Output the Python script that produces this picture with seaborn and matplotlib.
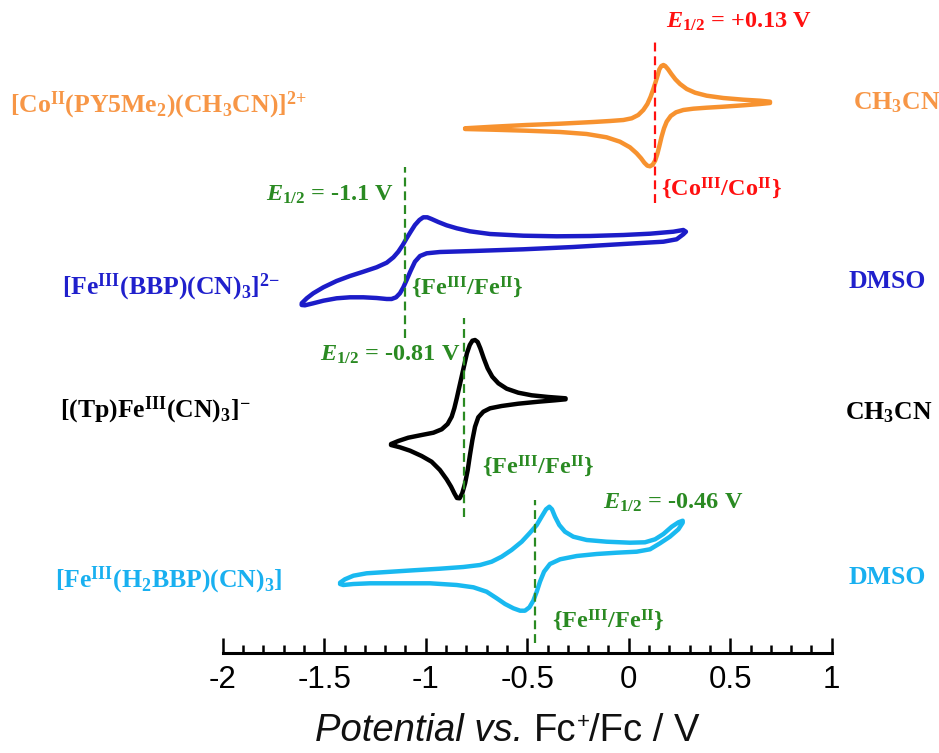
import numpy as np
import pandas as pd
import seaborn as sns
import matplotlib
matplotlib.use("Agg")
import matplotlib.pyplot as plt
from matplotlib.ticker import MultipleLocator, FuncFormatter

# ---- cyclic voltammograms (potential in V vs Fc+/Fc, current in arbitrary units) ----
# each trace: forward sweep (left -> right) followed by the return sweep
co_E = [-0.806, -0.667, -0.503, -0.338, -0.174, -0.092, -0.026, 0.015, 0.047, 0.072, 0.092,
        0.108, 0.121, 0.133, 0.143, 0.151, 0.161, 0.171, 0.180, 0.194, 0.210, 0.230, 0.253,
        0.286, 0.327, 0.384, 0.466, 0.565, 0.647, 0.696,
        0.696, 0.647, 0.565, 0.466, 0.384, 0.318, 0.269, 0.233, 0.207, 0.187, 0.174, 0.162,
        0.151, 0.141, 0.130, 0.118, 0.105, 0.092, 0.077, 0.061, 0.039, 0.006, -0.043, -0.109,
        -0.207, -0.338, -0.503, -0.667, -0.806]
co_I = [0.02, 0.18, 0.35, 0.48, 0.65, 0.75, 0.85, 1.02, 1.35, 1.85, 2.45, 3.18, 3.92, 4.68,
        5.35, 5.92, 6.25, 6.35, 6.25, 5.92, 5.45, 4.92, 4.45, 3.95, 3.58, 3.28, 3.05, 2.88,
        2.78, 2.68,
        2.55, 2.45, 2.32, 2.18, 2.08, 1.98, 1.85, 1.62, 1.25, 0.68, 0.02, -0.82, -1.75, -2.55,
        -3.22, -3.62, -3.78, -3.72, -3.42, -2.98, -2.48, -1.88, -1.32, -0.88, -0.55, -0.35,
        -0.22, -0.12, -0.05]

bbp_E = [-1.611, -1.586, -1.554, -1.504, -1.439, -1.373, -1.307, -1.242, -1.192, -1.159,
         -1.135, -1.113, -1.094, -1.074, -1.053, -1.031, -1.012, -0.992, -0.971, -0.938,
         -0.897, -0.847, -0.782, -0.683, -0.519, -0.355, -0.191, -0.026, 0.105, 0.220, 0.269,
         0.282,
         0.269, 0.236, 0.171, -0.026, -0.273, -0.519, -0.765, -0.930, -0.995, -1.028, -1.053,
         -1.074, -1.094, -1.110, -1.127, -1.146, -1.168, -1.192, -1.242, -1.307, -1.373,
         -1.439, -1.504, -1.554, -1.595, -1.611]
bbp_I = [0.07, 0.57, 1.07, 1.67, 2.3, 2.8, 3.23, 3.67, 4.13, 4.67, 5.23, 5.9, 6.57, 7.23, 7.9,
         8.4, 8.67, 8.67, 8.5, 8.2, 7.87, 7.57, 7.27, 7.0, 6.83, 6.77, 6.8, 6.9, 7.03, 7.23,
         7.4, 7.23,
         6.97, 6.47, 6.23, 6.0, 5.7, 5.47, 5.3, 5.2, 5.07, 4.8, 4.23, 3.33, 2.4, 1.67, 1.07,
         0.67, 0.5, 0.5, 0.6, 0.67, 0.67, 0.57, 0.33, 0.07, -0.13, -0.1]

tp_E = [-1.171, -1.135, -1.086, -1.020, -0.962, -0.921, -0.892, -0.872, -0.859, -0.847,
        -0.836, -0.823, -0.810, -0.797, -0.783, -0.770, -0.757, -0.744, -0.731, -0.714,
        -0.695, -0.672, -0.642, -0.601, -0.544, -0.478, -0.396, -0.311,
        -0.311, -0.363, -0.445, -0.544, -0.626, -0.683, -0.716, -0.741, -0.757, -0.770,
        -0.782, -0.793, -0.806, -0.820, -0.833, -0.846, -0.859, -0.875, -0.897, -0.930,
        -0.971, -1.020, -1.077, -1.127, -1.171]
tp_I = [0.0, 0.3, 0.63, 0.9, 1.13, 1.47, 2.0, 2.73, 3.57, 4.57, 5.57, 6.73, 7.9, 9.07, 9.9,
        10.33, 10.4, 10.2, 9.57, 8.57, 7.57, 6.73, 6.07, 5.53, 5.13, 4.87, 4.7, 4.57,
        4.47, 4.37, 4.23, 4.03, 3.8, 3.57, 3.23, 2.67, 1.73, 0.4, -1.1, -2.6, -3.93, -4.93,
        -5.43, -5.4, -4.93, -4.27, -3.53, -2.6, -1.77, -1.2, -0.67, -0.33, -0.1]

h2_E = [-1.422, -1.398, -1.356, -1.291, -1.192, -1.061, -0.930, -0.815, -0.732, -0.675,
        -0.626, -0.577, -0.527, -0.486, -0.453, -0.429, -0.407, -0.391, -0.378, -0.363,
        -0.342, -0.314, -0.273, -0.207, -0.109, 0.006, 0.080, 0.130, 0.171, 0.212, 0.245,
        0.266,
        0.266, 0.245, 0.203, 0.154, 0.105, 0.039, -0.059, -0.158, -0.256, -0.338, -0.388,
        -0.417, -0.437, -0.453, -0.470, -0.489, -0.511, -0.535, -0.568, -0.609, -0.650,
        -0.700, -0.765, -0.847, -0.979, -1.143, -1.274, -1.356, -1.406, -1.422]
h2_I = [0.03, 0.37, 0.73, 0.97, 1.1, 1.27, 1.43, 1.6, 1.8, 2.13, 2.63, 3.3, 4.13, 5.03, 5.8,
        6.63, 7.37, 7.63, 7.37, 6.63, 5.8, 5.13, 4.63, 4.3, 4.13, 4.03, 4.07, 4.37, 4.9, 5.63,
        6.07, 6.23,
        6.03, 5.37, 4.63, 3.97, 3.37, 3.13, 3.03, 2.9, 2.7, 2.37, 1.9, 1.13, 0.13, -0.87,
        -1.77, -2.43, -2.77, -2.77, -2.53, -2.1, -1.53, -0.87, -0.43, -0.2, -0.03, -0.03,
        -0.03, -0.1, -0.2, -0.1]

# half-wave potentials (V)
e_half = [0.13, -1.1, -0.81, -0.46]

complexes = [r"[Co$^{\mathrm{II}}$(PY5Me$_{2}$)(CH$_{3}$CN)]$^{2{+}}$",
             r"[Fe$^{\mathrm{III}}$(BBP)(CN)$_{3}$]$^{2{-}}$",
             r"[(Tp)Fe$^{\mathrm{III}}$(CN)$_{3}$]$^{{-}}$",
             r"[Fe$^{\mathrm{III}}$(H$_{2}$BBP)(CN)$_{3}$]"]
solvents = [r"CH$_{3}$CN", "DMSO", r"CH$_{3}$CN", "DMSO"]
couples = [r"{Co$^{\mathrm{III}}$/Co$^{\mathrm{II}}$}", r"{Fe$^{\mathrm{III}}$/Fe$^{\mathrm{II}}$}",
           r"{Fe$^{\mathrm{III}}$/Fe$^{\mathrm{II}}$}", r"{Fe$^{\mathrm{III}}$/Fe$^{\mathrm{II}}$}"]
tick_values = [-2, -1.5, -1, -0.5, 0, 0.5, 1]

# ---- style ----
sns.set_theme(style="white")
plt.rcParams["font.family"] = ["Liberation Sans", "DejaVu Sans"]
plt.rcParams["mathtext.fontset"] = "custom"
plt.rcParams["mathtext.rm"] = "Liberation Serif:bold"
plt.rcParams["mathtext.it"] = "Liberation Serif:italic:bold"
plt.rcParams["mathtext.bf"] = "Liberation Serif:bold"

W, H = 939, 753
fig = plt.figure(figsize=(W / 100, H / 100), dpi=100)
fig.patch.set_facecolor("white")
ax = fig.add_axes([222.7 / W, 1 - 653 / H, 609 / W, 653 / H])
ax.patch.set_alpha(0)

curve_colors = ["#F7922F", "#1C1CC8", "#000000", "#19B9F0"]
label_colors = ["#F79646", "#2020CC", "#000000", "#19B0F0"]
green = "#2A8A22"
red = "#FF1010"
offsets = [52.45, 34.9, 20.9, 7.0]

for E, I, off, col in zip([co_E, bbp_E, tp_E, h2_E], [co_I, bbp_I, tp_I, h2_I],
                          offsets, curve_colors):
    df = pd.DataFrame({"E": E, "I": np.asarray(I) + off})
    sns.lineplot(data=df, x="E", y="I", sort=False, estimator=None, color=col,
                 lw=3.2, ax=ax, solid_joinstyle="round", solid_capstyle="round")

# dashed markers at the half-wave potentials
dash_spans = [(45.0, 61.3), (31.5, 48.6), (13.6, 33.5), (1.0, 15.3)]
dash_colors = [red, green, green, green]
for e, (y0, y1), c in zip(e_half, dash_spans, dash_colors):
    ax.plot([e, e], [y0, y1], color=c, lw=1.6, ls=(0, (4, 2.2)))

ax.set_xlim(-2, 1)
ax.set_ylim(0, 65.3)
ax.set_xlabel("")
ax.set_ylabel("")
ax.set_yticks([])
for s in ["left", "right", "top"]:
    ax.spines[s].set_visible(False)
ax.spines["bottom"].set_linewidth(2.2)
ax.spines["bottom"].set_color("black")
ax.set_xticks(tick_values)
ax.xaxis.set_minor_locator(MultipleLocator(0.1))
ax.xaxis.set_major_formatter(FuncFormatter(lambda v, p: f"{v:g}"))
ax.tick_params(axis="x", which="major", direction="in", length=10.8, width=1.8,
               labelsize=22.5, pad=9, colors="black", bottom=True)
ax.tick_params(axis="x", which="minor", direction="in", length=5.6, width=1.8,
               colors="black", bottom=True)


def ftext(x, y, s, color, size=18.5, ha="left"):
    return fig.text(x / W, 1 - y / H, s, color=color, ha=ha, va="center", fontsize=size,
                    family="Liberation Serif", weight="bold")


# compound labels (left) and solvents (right)
for s, y, x, c in zip(complexes, [105, 287, 410, 580], [10, 62, 60, 55], label_colors):
    ftext(x, y, s, c)
for s, y, x, c in zip(solvents, [103, 281, 413, 577], [853, 849, 845, 849], label_colors):
    ftext(x, y, s, c)

# half-wave potential annotations
e_labels = [r"$E_{\mathrm{1/2}}$ = +%.2f V" % e_half[0],
            r"$E_{\mathrm{1/2}}$ = %.1f V" % e_half[1],
            r"$E_{\mathrm{1/2}}$ = %.2f V" % e_half[2],
            r"$E_{\mathrm{1/2}}$ = %.2f V" % e_half[3]]
for s, (x, y), c in zip(e_labels, [(666, 22), (266, 195), (320, 355), (603, 503)],
                        [red, green, green, green]):
    ftext(x, y, s, c, size=17.5)
for s, (x, y), c in zip(couples, [(661, 188), (411, 287), (482, 466), (552, 620)],
                        [red, green, green, green]):
    ftext(x, y, s, c, size=17.5)

# axis title, assembled from pieces: italic words, upright text, small raised "+"
base_y = 741
pieces = [("Potential vs. ", 27.5, "italic", 0), ("Fc", 27.5, "normal", 0),
          ("+", 16, "normal", 13), ("/Fc / V", 27.5, "normal", 0)]
fig.canvas.draw()
r = fig.canvas.get_renderer()
x = 315.0
for s, size, style, rise in pieces:
    t = fig.text(x / W, 1 - (base_y - rise) / H, s, fontsize=size, style=style,
                 family="Liberation Sans", va="baseline", ha="left", color="#111111")
    x += t.get_window_extent(r).width

fig.savefig("out.png", dpi=100, facecolor="white")
